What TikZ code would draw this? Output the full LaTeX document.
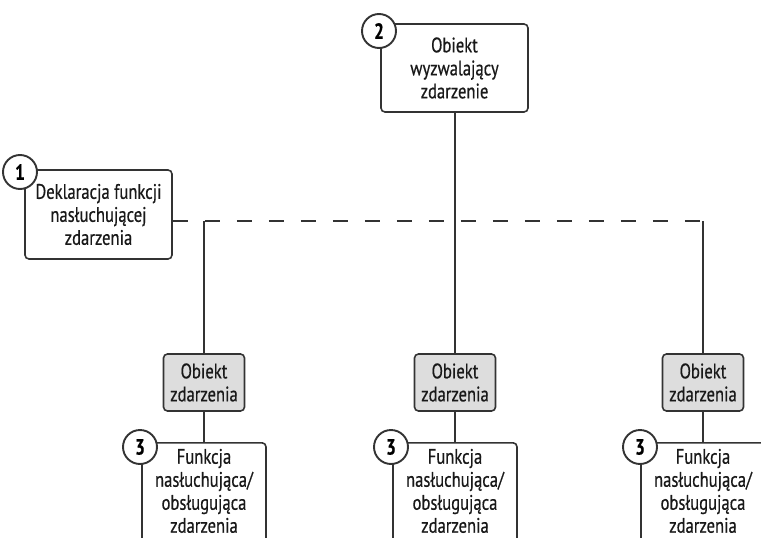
\documentclass[tikz,border=0pt]{standalone}
\usepackage{fontspec}
\setmainfont{PT Sans}[FakeStretch=0.79,FakeBold=0.5]
\definecolor{lc}{HTML}{333333}
\definecolor{evfill}{HTML}{DDDDDD}
\newcommand{\handlertext}{Funkcja\\nasłuchująca/\\obsługująca\\zdarzenia\\ \mbox{}}
\begin{document}
\begin{tikzpicture}[x=1pt,y=-1pt,
  conn/.style={draw=lc, line width=1.5pt},
  dashconn/.style={conn, dash pattern=on 15pt off 17pt},
  box/.style={draw=lc, line width=1.6pt, rounded corners=4pt, fill=white, align=center,
    font=\fontsize{21}{23}\selectfont, inner sep=0pt, text=black!90},
  evbox/.style={box, fill=evfill, minimum width=81pt, minimum height=57pt},
  fbox/.style={box, minimum width=124pt, minimum height=119pt, anchor=north},
  num/.style={circle, draw=lc, line width=1.9pt, fill=white, minimum size=34pt,
    inner sep=0pt, font=\fontsize{22}{22}\selectfont\bfseries}]
\clip (0,0) rectangle (761,538);
\fill[white] (0,0) rectangle (761,538);
% top object
\node[box, minimum width=147pt, minimum height=88pt] (o2) at (454.5,68) {Obiekt\\wyzwalający\\zdarzenie};
\node[num] (c2) at (379,31) {2};
% declaration
\node[box, minimum width=147pt, minimum height=89pt] (d1) at (98.5,214.5) {Deklaracja funkcji\\nasłuchującej\\zdarzenia};
\node[num] (c1) at (20,172) {1};
% event objects
\node[evbox] (ev1) at (204,382.5) {Obiekt\\zdarzenia};
\node[evbox] (ev2) at (455,382.5) {Obiekt\\zdarzenia};
\node[evbox] (ev3) at (703,382.5) {Obiekt\\zdarzenia};
% handler functions (bottom edge lies outside the picture)
\node[fbox] (f1) at (204,442) {\handlertext};
\node[fbox] (f2) at (455,442) {\handlertext};
\node[fbox] (f3) at (703,442) {\handlertext};
\node[num] (c3a) at (140,447) {3};
\node[num] (c3b) at (391,447) {3};
\node[num] (c3c) at (640,447) {3};
% connectors
\coordinate (jl) at (204,221);
\coordinate (jr) at (703,221);
\draw[dashconn] (d1.east |- jl) -- (jr);
\draw[conn] (jl) -- (ev1.north);
\draw[conn] (jr) -- (ev3.north);
\draw[conn] (o2.south -| ev2.north) -- (ev2.north);
\draw[conn] (ev1.south) -- (f1.north);
\draw[conn] (ev2.south) -- (f2.north);
\draw[conn] (ev3.south) -- (f3.north);
\end{tikzpicture}
\end{document}
